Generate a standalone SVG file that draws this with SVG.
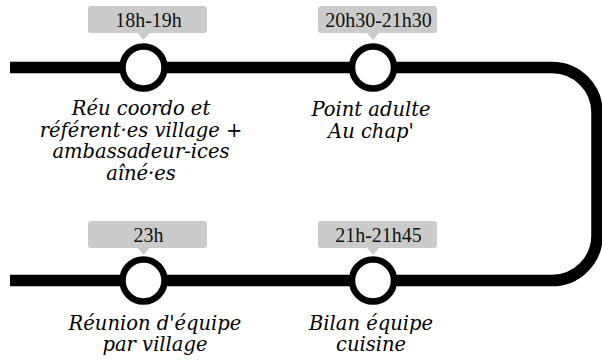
<svg xmlns="http://www.w3.org/2000/svg" width="602" height="363" viewBox="0 0 602 363">
<style>
.line{fill:none;stroke:#000;stroke-width:11.5}
.stop{fill:#fff;stroke:#000;stroke-width:6.5}
.bub{fill:#cbcbcb}
.time{font-family:'Liberation Serif', 'Times New Roman', serif;font-size:20px;fill:#111;text-anchor:middle}
.lbl{font-family:'DejaVu Serif', serif;font-style:italic;font-size:19.5px;fill:#000;text-anchor:middle}
</style>
<rect width="602" height="363" fill="#fff"/>
<g id="connectors">
<path class="line" d="M10,67.5 H552 A45,45 0 0 1 597,112.5 V235.5 A45,45 0 0 1 552,280.5 H10"/>
</g>
<g id="node1">
<rect class="bub" x="88" y="6" width="119" height="27" rx="3"/>
<path class="bub" d="M137.5,33 L143.5,40 L149.5,33 Z"/>
<text class="time" x="148.5" y="27" font-family="Liberation Serif, serif">18h-19h</text>
<circle class="stop" cx="143.5" cy="67.5" r="21"/>
<text class="lbl" x="141" y="115" font-family="DejaVu Serif, serif">Réu coordo et</text>
<text class="lbl" x="141" y="136.7" font-family="DejaVu Serif, serif">référent·es village +</text>
<text class="lbl" x="141" y="158.4" font-family="DejaVu Serif, serif">ambassadeur-ices</text>
<text class="lbl" x="141" y="180.1" font-family="DejaVu Serif, serif">aîné·es</text>
</g>
<g id="node2">
<rect class="bub" x="318" y="6" width="119" height="27" rx="3"/>
<path class="bub" d="M367,33 L373,40 L379,33 Z"/>
<text class="time" x="378.5" y="27" font-family="Liberation Serif, serif">20h30-21h30</text>
<circle class="stop" cx="373" cy="67.5" r="21"/>
<text class="lbl" x="371" y="116" font-family="DejaVu Serif, serif">Point adulte</text>
<text class="lbl" x="371" y="137.7" font-family="DejaVu Serif, serif">Au chap'</text>
</g>
<g id="node3">
<rect class="bub" x="318" y="221" width="119" height="27" rx="3"/>
<path class="bub" d="M367,248 L373,255 L379,248 Z"/>
<text class="time" x="378.5" y="242" font-family="Liberation Serif, serif">21h-21h45</text>
<circle class="stop" cx="373" cy="280.5" r="21"/>
<text class="lbl" x="371" y="329.5" font-family="DejaVu Serif, serif">Bilan équipe</text>
<text class="lbl" x="371" y="351" font-family="DejaVu Serif, serif">cuisine</text>
</g>
<g id="node4">
<rect class="bub" x="88" y="221" width="119" height="27" rx="3"/>
<path class="bub" d="M137.5,248 L143.5,255 L149.5,248 Z"/>
<text class="time" x="148.5" y="242" font-family="Liberation Serif, serif">23h</text>
<circle class="stop" cx="143.5" cy="280.5" r="21"/>
<text class="lbl" x="155" y="329.5" font-family="DejaVu Serif, serif">Réunion d'équipe</text>
<text class="lbl" x="155" y="351" font-family="DejaVu Serif, serif">par village</text>
</g>
</svg>
